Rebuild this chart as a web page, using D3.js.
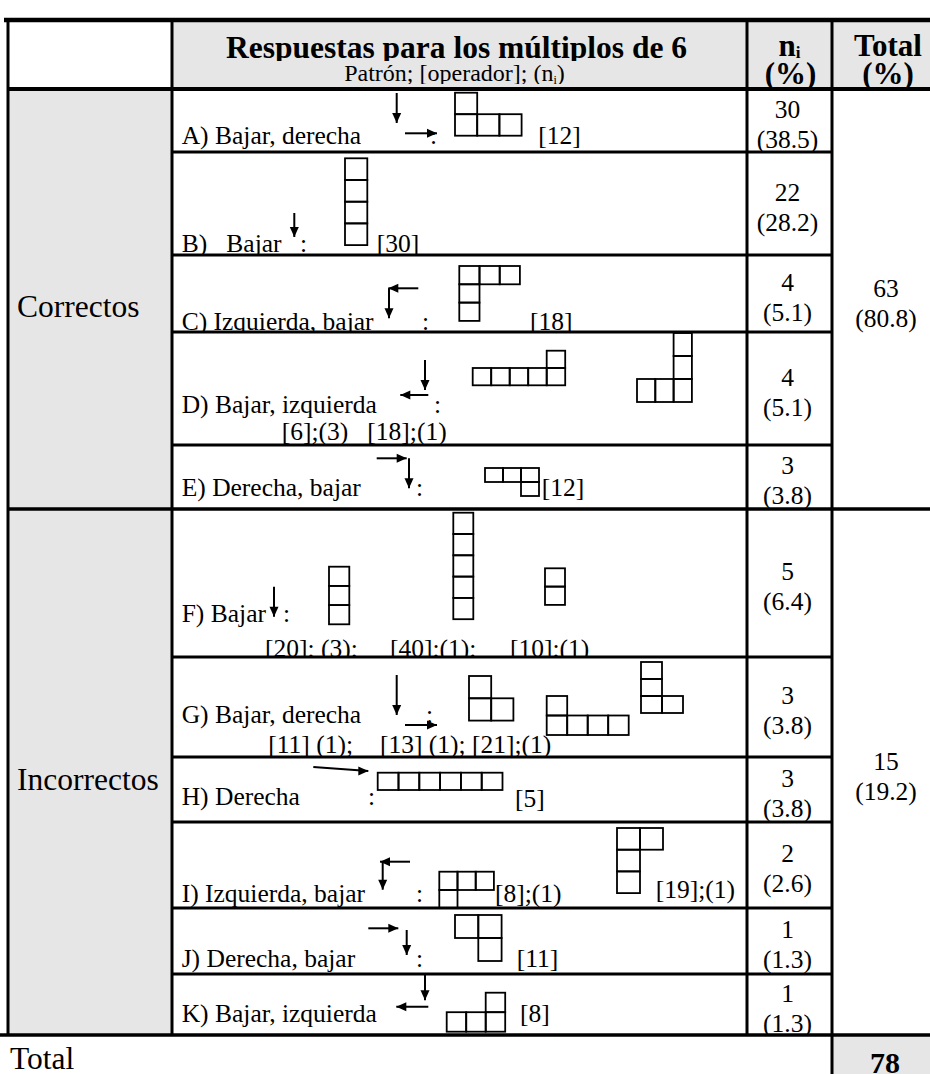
<!DOCTYPE html>
<html><head><meta charset="utf-8">
<script src="https://cdn.jsdelivr.net/npm/d3@7"></script>
<style>
body{margin:0;background:#fff}
svg{display:block}
text{font-family:"Liberation Serif","Times New Roman",serif;white-space:pre;fill:#000}
</style>
</head><body>
<svg id="c" width="930" height="1074" font-family="Liberation Serif, Times New Roman, serif"></svg>
<script>
// ---------------- DATA ----------------
const groups = ["Correctos", "Incorrectos"];
const groupRows = [["A","B","C","D","E"], ["F","G","H","I","J","K"]];
const groupTotals = [63, 15];
const groupPercents = ["80.8", "19.2"];
const grandTotal = 78;
const rowIds = ["A","B","C","D","E","F","G","H","I","J","K"];
const patterns = ["A) Bajar, derecha","B)   Bajar","C) Izquierda, bajar","D) Bajar, izquierda","E) Derecha, bajar",
  "F) Bajar","G) Bajar, derecha","H) Derecha","I) Izquierda, bajar","J) Derecha, bajar","K) Bajar, izquierda"];
const counts = [30, 22, 4, 4, 3, 5, 3, 3, 2, 1, 1];
const percents = ["38.5","28.2","5.1","5.1","3.8","6.4","3.8","3.8","2.6","1.3","1.3"];
const operators = [["[12]"],["[30]"],["[18]"],["[6];(3)   [18];(1)"],["[12]"],
  ["[20]; (3);","[40];(1);","[10];(1)"],["[11] (1);","[13] (1);","[21];(1)"],["[5]"],
  ["[8];(1)","[19];(1)"],["[11]"],["[8]"]];
const arrowDirs = [["down","right"],["down"],["left","down"],["down","left"],["right","down"],
  ["down"],["down","right"],["right"],["left","down"],["right","down"],["down","left"]];
const figures = [
  {row:"A", cells:[[0,0],[0,1],[1,1],[2,1]]},
  {row:"B", cells:[[0,0],[0,1],[0,2],[0,3]]},
  {row:"C", cells:[[0,0],[1,0],[2,0],[0,1],[0,2]]},
  {row:"D", cells:[[4,0],[0,1],[1,1],[2,1],[3,1],[4,1]]},
  {row:"D", cells:[[2,0],[2,1],[0,2],[1,2],[2,2]]},
  {row:"E", cells:[[0,0],[1,0],[2,0],[2,1]]},
  {row:"F", cells:[[0,0],[0,1],[0,2]]},
  {row:"F", cells:[[0,0],[0,1],[0,2],[0,3],[0,4]]},
  {row:"F", cells:[[0,0],[0,1]]},
  {row:"G", cells:[[0,0],[0,1],[1,1]]},
  {row:"G", cells:[[0,0],[0,1],[1,1],[2,1],[3,1]]},
  {row:"G", cells:[[0,0],[0,1],[0,2],[1,2]]},
  {row:"H", cells:[[0,0],[1,0],[2,0],[3,0],[4,0],[5,0]]},
  {row:"I", cells:[[0,0],[1,0],[2,0],[0,1]]},
  {row:"I", cells:[[0,0],[1,0],[0,1],[0,2]]},
  {row:"J", cells:[[0,0],[1,0],[1,1]]},
  {row:"K", cells:[[2,0],[0,1],[1,1],[2,1]]}
];

// ---------------- LAYOUT ----------------
const colEdges = [8, 172, 747, 832, 930];
const tableTop = 20, headBottom = 89;
const rowBottoms = [152,255,332,445,509,657,757,822,908,974,1035];
const rowTops = [headBottom].concat(rowBottoms.slice(0,-1));
const figLayout = [
  [455,92.7,22.2,21.5],[345,158.3,22.3,21.7],[459.3,266,20.2,18.3],[472.7,350.7,18.5,17.3],[637,333,18.3,23],
  [485,468,18,14],[329,566.7,20.3,19.2],[453.3,512.7,20,21.3],[545,568.3,20,18.3],
  [469,676,22.2,22.3],[546.7,696,20.5,19.5],[641,662,21,17],[377.7,772.7,20.8,17.3],
  [439.3,871.7,18.2,18.3],[617,828,23,21.7],[455,915,23.3,23],[446.7,992.7,19.5,19.5]];
const patBase = [144.3,251.7,330,412.7,496,621.7,723.3,805,901.7,966.7,1021.7];
const opLayout = [[[538.3,144.3]],[[376.7,251.7]],[[530,330]],[[281.7,440]],[[541.7,496]],
  [[265,656.7],[390,656.7],[510,656.7]],[[268.3,753.3],[380,753.3],[472,753.3]],[[515,806.7]],
  [[495,901.7],[735,898,"end"]],[[516.7,966.7]],[[520,1021.7]]];
const arrowLayout = [
  [[396.7,93,30],[405,133.3,32]],[[294.3,213,24]],[[418.3,288.3,30],[389,288.3,30]],
  [[425,360,30],[428.3,395,28]],[[376.7,458.3,30],[409,458.3,30]],[[274,586.7,30]],
  [[396.7,675,40],[405,725,32]],[[313.3,767,55]],[[410,861.7,30],[382.7,861.7,28]],
  [[368.3,928.3,30],[406.7,930,25]],[[425,973.3,27],[428.3,1006.7,32]]];
const colonX = [430,300,422,434,416,283,426,368,416,416,null];
const bodyFont = 25.5;

// ---------------- DRAW ----------------
const svg = d3.select("#c");
const yTop = d3.scaleOrdinal().domain(rowIds).range(rowTops);
const yBot = d3.scaleOrdinal().domain(rowIds).range(rowBottoms);
const xCol = d3.scaleOrdinal().domain(["group","pattern","ni","total","end"]).range(colEdges);
const defs = svg.append("defs");
const gray = "#e6e6e6";

svg.append("rect").attr("x", xCol("pattern")).attr("y", tableTop).attr("width", xCol("end")-xCol("pattern")).attr("height", headBottom-tableTop).attr("fill", gray);
svg.append("rect").attr("x", xCol("group")).attr("y", headBottom).attr("width", xCol("pattern")-xCol("group")).attr("height", rowBottoms[rowBottoms.length-1]-headBottom).attr("fill", gray);
svg.append("rect").attr("x", xCol("total")).attr("y", rowBottoms[rowBottoms.length-1]).attr("width", xCol("end")-xCol("total")).attr("height", 60).attr("fill", gray);

defs.append("clipPath").attr("id","clipTitle").append("rect").attr("x",172).attr("y",20).attr("width",760).attr("height",41);
defs.append("clipPath").attr("id","clipSub").append("rect").attr("x",172).attr("y",62).attr("width",760).attr("height",22);
const pc = (xCol("pattern")+xCol("ni"))/2;
svg.append("text").attr("clip-path","url(#clipTitle)").attr("x", pc-3).attr("y", 57.5).attr("text-anchor","middle")
  .attr("font-size",31.5).attr("font-weight","bold").text("Respuestas para los múltiplos de 6");
const sub = svg.append("text").attr("clip-path","url(#clipSub)").attr("x", pc-5).attr("y", 80.5).attr("text-anchor","middle").attr("font-size",24);
sub.append("tspan").text("Patrón; [operador]; (n");
sub.append("tspan").attr("font-size",12).attr("dy",3).text("i");
sub.append("tspan").attr("dy",-3).text(")");
const nc = (xCol("ni")+xCol("total"))/2;
const ni = svg.append("text").attr("x", nc).attr("y", 56).attr("text-anchor","middle").attr("font-size",31).attr("font-weight","bold");
ni.append("tspan").text("n");
ni.append("tspan").attr("font-size",17).attr("dy",2).text("i");
svg.append("text").attr("x", nc+1).attr("y", 84).attr("text-anchor","middle").attr("font-size",31).attr("font-weight","bold").text("(%)");
const tc = (xCol("total")+xCol("end"))/2;
svg.append("text").attr("x", tc+7).attr("y", 56).attr("text-anchor","middle").attr("font-size",31).attr("font-weight","bold").text("Total");
svg.append("text").attr("x", tc+7).attr("y", 84).attr("text-anchor","middle").attr("font-size",31).attr("font-weight","bold").text("(%)");

groups.forEach((g,i) => {
  const t = yTop(groupRows[i][0]), b = yBot(groupRows[i][groupRows[i].length-1]);
  const mid = (t+b)/2;
  svg.append("text").attr("x", xCol("group")+9).attr("y", mid+17.5).attr("font-size",31.5).text(g);
  svg.append("text").attr("x", tc+5).attr("y", mid-2.5).attr("text-anchor","middle").attr("font-size",bodyFont).text(groupTotals[i]);
  svg.append("text").attr("x", tc+5).attr("y", mid+27.5).attr("text-anchor","middle").attr("font-size",bodyFont).text("("+groupPercents[i]+")");
});

const arrowHead = (g, x, y, dir) => {
  const L = 10, W = 4.5;
  let pts;
  if (dir==="down") pts = [[x,y],[x-W,y-L],[x+W,y-L]];
  if (dir==="right") pts = [[x,y],[x-L,y-W],[x-L,y+W]];
  if (dir==="left") pts = [[x,y],[x+L,y-W],[x+L,y+W]];
  g.append("path").attr("d", d3.line()(pts)+"Z").attr("fill","#000");
};
rowIds.forEach((r,i) => {
  const t = yTop(r), b = yBot(r);
  defs.append("clipPath").attr("id","clip"+r).append("rect").attr("x",xCol("pattern")).attr("y",t).attr("width",xCol("total")-xCol("pattern")).attr("height",b-t);
  const g = svg.append("g").attr("clip-path","url(#clip"+r+")");
  g.append("text").attr("x", xCol("pattern")+9.7).attr("y", patBase[i]).attr("font-size",bodyFont).text(patterns[i]);
  if (colonX[i] !== null) g.append("text").attr("x", colonX[i]).attr("y", patBase[i]).attr("font-size",bodyFont).text(":");
  operators[i].forEach((op,j) => {
    const p = opLayout[i][j];
    g.append("text").attr("x", p[0]).attr("y", p[1]).attr("text-anchor", p[2]==="end"?"end":"start").attr("font-size",bodyFont).text(op);
  });
  arrowDirs[i].forEach((dir,j) => {
    const [x0,y0,len] = arrowLayout[i][j];
    let x1=x0, y1=y0;
    if (dir==="down") y1 = y0+len;
    if (dir==="right") x1 = x0+len;
    if (dir==="left") x1 = x0-len;
    if (r==="H") y1 = y0+4;
    g.append("line").attr("x1",x0).attr("y1",y0).attr("x2",x1).attr("y2",y1).attr("stroke","#000").attr("stroke-width",2);
    arrowHead(g, x1, y1, dir);
  });
  const mid = (t+b)/2;
  g.append("text").attr("x", nc-2).attr("y", mid-3).attr("text-anchor","middle").attr("font-size",bodyFont).text(counts[i]);
  g.append("text").attr("x", nc-2).attr("y", mid+27).attr("text-anchor","middle").attr("font-size",bodyFont).text("("+percents[i]+")");
});

figures.forEach((f,k) => {
  const [ox,oy,cw,ch] = figLayout[k];
  const g = svg.append("g").attr("clip-path","url(#clip"+f.row+")");
  const xs = d3.scaleLinear().domain([0,1]).range([ox, ox+cw]);
  const ys = d3.scaleLinear().domain([0,1]).range([oy, oy+ch]);
  g.selectAll("rect").data(f.cells).join("rect")
    .attr("x", d=>xs(d[0])).attr("y", d=>ys(d[1]))
    .attr("width", cw).attr("height", ch)
    .attr("fill","none").attr("stroke","#000").attr("stroke-width",1.8);
});

svg.append("text").attr("x", 10).attr("y", 1069).attr("font-size",31.5).text("Total");
svg.append("text").attr("x", tc+4).attr("y", 1073).attr("text-anchor","middle").attr("font-size",30).attr("font-weight","bold").text(grandTotal);

const line = (x1,y1,x2,y2,w) => svg.append("line").attr("x1",x1).attr("y1",y1).attr("x2",x2).attr("y2",y2).attr("stroke","#000").attr("stroke-width",w);
line(4, tableTop, 930, tableTop, 4.5);
line(xCol("group"), headBottom, 930, headBottom, 4);
const lastB = rowBottoms[rowBottoms.length-1];
line(xCol("group"), tableTop, xCol("group"), lastB, 3);
line(xCol("pattern"), tableTop, xCol("pattern"), lastB, 3);
line(xCol("ni"), tableTop, xCol("ni"), lastB, 3);
line(xCol("total"), tableTop, xCol("total"), 1074, 3);
rowIds.forEach((r,i) => {
  const b = yBot(r);
  if (i === rowIds.length-1) line(0, b, 930, b, 3.5);
  else if (r === groupRows[0][groupRows[0].length-1]) line(xCol("group"), b, 930, b, 3.5);
  else line(xCol("pattern"), b, xCol("total"), b, 3);
});
</script>
</body></html>
